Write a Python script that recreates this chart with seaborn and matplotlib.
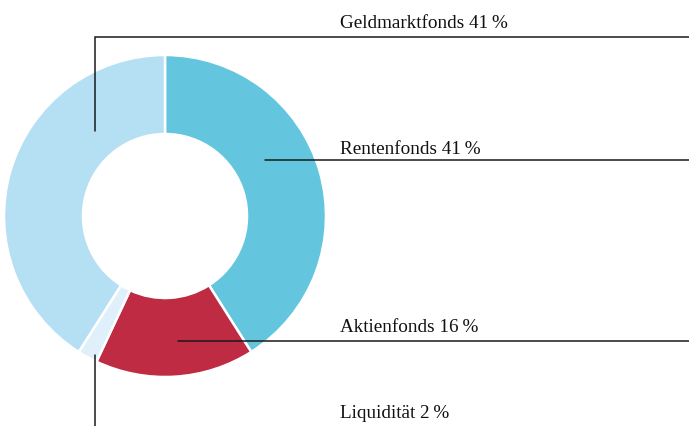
import matplotlib
matplotlib.use("Agg")
import matplotlib.pyplot as plt
from matplotlib.patches import Rectangle
import seaborn as sns

categories = ["Rentenfonds", "Aktienfonds", "Liquidität", "Geldmarktfonds"]
values = [41, 16, 2, 41]
colors = ["#63C6DE", "#C02B44", "#DFF0FB", "#B5DFF2"]

sns.set_theme(style="white")
plt.rcParams['font.family'] = ['Liberation Serif', 'DejaVu Serif']

W, H = 689, 426
fig = plt.figure(figsize=(W / 100, H / 100), dpi=100)
ax = fig.add_axes([0, 0, 1, 1])

cx, cy, R, r = 165, H - 216, 161, 82
wedges, _ = ax.pie(values, colors=colors, startangle=90, counterclock=False,
                   center=(cx, cy), radius=R,
                   wedgeprops=dict(width=R - r, edgecolor="white", linewidth=1.8))
ax.set_xlim(0, W)
ax.set_ylim(0, H)
ax.set_aspect("auto")
ax.axis("off")
for w in wedges:
    w.set_clip_path(Rectangle((8, -10), W, H + 20, transform=ax.transData))

def py(y):
    return H - y

lc = "#1a1a1a"
lw = 1.1
fs = 13.8
tc = "#111"
sp = "\u2009"
# Geldmarktfonds
ax.plot([95, 95, W + 5], [py(131), py(37), py(37)], color=lc, lw=lw, solid_joinstyle="miter")
ax.text(340, py(23), f"{categories[3]} {values[3]}{sp}%", fontsize=fs, va="center", ha="left", color=tc)
# Rentenfonds
ax.plot([265, W + 5], [py(160), py(160)], color=lc, lw=lw)
ax.text(340, py(149), f"{categories[0]} {values[0]}{sp}%", fontsize=fs, va="center", ha="left", color=tc)
# Aktienfonds
ax.plot([178, W + 5], [py(341), py(341)], color=lc, lw=lw)
ax.text(340, py(328), f"{categories[1]} {values[1]}{sp}%", fontsize=fs, va="center", ha="left", color=tc)
# Liquidität
ax.plot([95, 95], [py(355), py(H + 5)], color=lc, lw=lw)
ax.text(340, py(414), f"{categories[2]} {values[2]}{sp}%", fontsize=fs, va="center", ha="left", color=tc)

fig.savefig("out.png", dpi=100)
